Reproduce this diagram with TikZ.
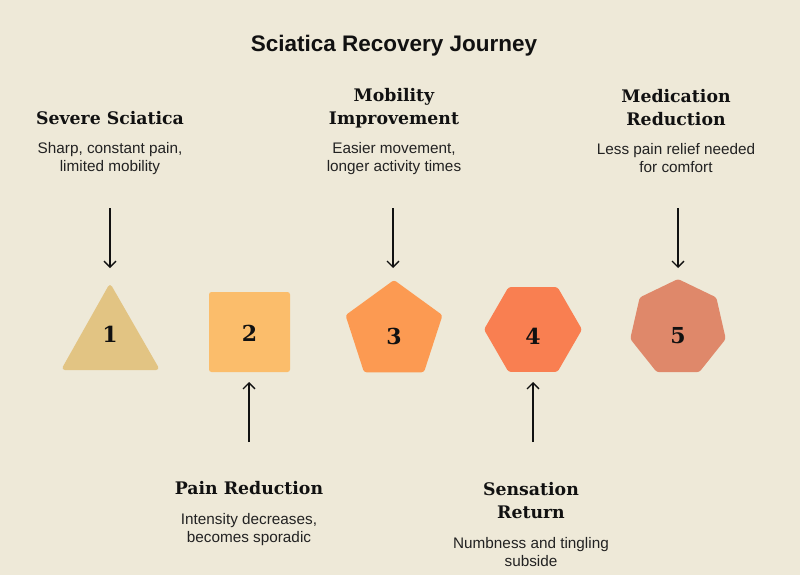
\documentclass[tikz,border=0pt]{standalone}
\usepackage{fontspec}
\setmainfont{DejaVu Serif}
\setsansfont{Liberation Sans}
\usetikzlibrary{arrows.meta}
\definecolor{bg}{HTML}{EEE9D8}
\definecolor{c1}{HTML}{E2C483}
\definecolor{c2}{HTML}{FBBD6B}
\definecolor{c3}{HTML}{FC9A52}
\definecolor{c4}{HTML}{F97F51}
\definecolor{c5}{HTML}{DF886A}
\definecolor{ink}{HTML}{111111}
\definecolor{desc}{HTML}{222222}
\tikzset{
  head/.style={font=\fontsize{17.3}{23}\selectfont\rmfamily\bfseries, text=ink, align=center, inner sep=0pt},
  note/.style={font=\fontsize{15.3}{18}\selectfont\sffamily, text=desc, align=center, inner sep=0pt},
  num/.style={font=\fontsize{22}{28}\selectfont\rmfamily\bfseries, text=ink, inner sep=0pt},
  arr/.style={line width=1.3pt, draw=ink, -{Straight Barb[length=6pt,width=12pt,line width=1.3pt]}},
  shp/.style={rounded corners=2.5pt}
}
\begin{document}
\begin{tikzpicture}[x=1pt,y=-1pt]
\useasboundingbox (0,0) rectangle (800,575);
\fill[bg] (0,0) rectangle (800,575);
% title
\node[font=\fontsize{22.5}{26}\selectfont\sffamily\bfseries, text=ink] (title) at (394,46) {Sciatica Recovery Journey};
% shapes
\fill[c1,rounded corners=4pt] (110,283) -- (160,370) -- (61,370) -- cycle;
\fill[c2,shp] (209,292) rectangle (290,372);
\begin{scope}[shift={(394,331)}]
\fill[c3,shp] (-90:51) -- (-18:51) -- (54:51) -- (126:51) -- (198:51) -- cycle;
\end{scope}
\begin{scope}[shift={(533,329.5)}]
\fill[c4,shp] (0:49) -- (60:49) -- (120:49) -- (180:49) -- (240:49) -- (300:49) -- cycle;
\end{scope}
\begin{scope}[shift={(678,328)}]
\fill[c5,shp] (-90:49) -- (-38.57:49) -- (12.86:49) -- (64.29:49) -- (115.71:49) -- (167.14:49) -- (218.57:49) -- cycle;
\end{scope}
% numbers
\node[num] (n1) at (110,334) {1};
\node[num] (n2) at (249.5,333) {2};
\node[num] (n3) at (394,336) {3};
\node[num] (n4) at (533,336) {4};
\node[num] (n5) at (678,336) {5};
% headings
\node[head] (h1) at (110,118.5) {Severe Sciatica};
\node[note] (d1) at (110,159) {Sharp, constant pain,\\limited mobility};
\node[head] (h3) at (394,108.5) {Mobility\\Improvement};
\node[note] (d3) at (394,159) {Easier movement,\\longer activity times};
\node[head] (h5) at (676,108) {Medication\\Reduction};
\node[note] (d5) at (676,158.5) {Less pain relief needed\\for comfort};
\node[head] (h2) at (249,488.5) {Pain Reduction};
\node[note] (d2) at (249,530) {Intensity decreases,\\becomes sporadic};
\node[head] (h4) at (531,500.5) {Sensation\\Return};
\node[note] (d4) at (531,552) {Numbness and tingling\\subside};
% arrows
\coordinate (a1s) at (110,208); \coordinate (a1e) at (110,268);
\coordinate (a3s) at (393,208); \coordinate (a3e) at (393,268);
\coordinate (a5s) at (678,208); \coordinate (a5e) at (678,268);
\coordinate (a2s) at (249,442); \coordinate (a2e) at (249,382);
\coordinate (a4s) at (533,442); \coordinate (a4e) at (533,382);
\draw[arr] (a1s) -- (a1e);
\draw[arr] (a3s) -- (a3e);
\draw[arr] (a5s) -- (a5e);
\draw[arr] (a2s) -- (a2e);
\draw[arr] (a4s) -- (a4e);
\end{tikzpicture}
\end{document}
